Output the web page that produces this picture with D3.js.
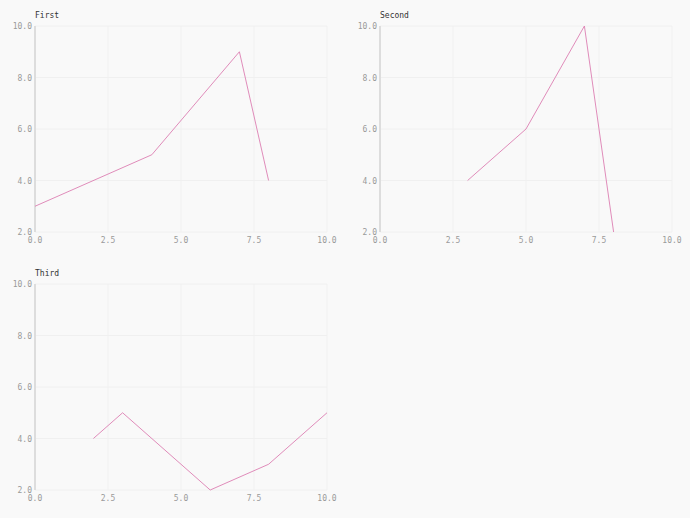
<!DOCTYPE html>
<html><head><meta charset="utf-8">
<script src="https://cdn.jsdelivr.net/npm/d3@7"></script>
<style>
html,body{margin:0;padding:0;background:#f9f9f9;}
svg{display:block;}
</style></head>
<body>
<svg id="chart" width="690" height="518"></svg>
<script>
const titles = ["First", "Second", "Third"];
const firstX = [0, 4, 7, 8];
const firstY = [3, 5, 9, 4];
const secondX = [3, 5, 7, 8];
const secondY = [4, 6, 10, 2];
const thirdX = [2, 3, 6, 8, 10];
const thirdY = [4, 5, 2, 3, 5];
const xTicks = [0, 2.5, 5, 7.5, 10];
const yTicks = [2, 4, 6, 8, 10];

const panels = [
  {title: titles[0], xs: firstX, ys: firstY, left: 35, top: 26},
  {title: titles[1], xs: secondX, ys: secondY, left: 380, top: 26},
  {title: titles[2], xs: thirdX, ys: thirdY, left: 35, top: 284}
];
const W = 292, H = 206;
const svg = d3.select("#chart");
svg.append("rect").attr("width", 690).attr("height", 518).attr("fill", "#f9f9f9");

panels.forEach(p => {
  const g = svg.append("g").attr("transform", `translate(${p.left},${p.top})`);
  const x = d3.scaleLinear().domain([0, 10]).range([0, W]);
  const y = d3.scaleLinear().domain([2, 10]).range([H, 0]);

  // grid
  g.selectAll(".vg").data(xTicks).enter().append("line")
    .attr("x1", d => x(d)).attr("x2", d => x(d)).attr("y1", 0).attr("y2", H)
    .attr("stroke", "#f1f1f1").attr("stroke-width", 1);
  g.selectAll(".hg").data(yTicks).enter().append("line")
    .attr("x1", 0).attr("x2", W).attr("y1", d => y(d)).attr("y2", d => y(d))
    .attr("stroke", "#f0f0f0").attr("stroke-width", 1);

  // left axis line
  g.append("line").attr("x1", 0).attr("x2", 0).attr("y1", 0).attr("y2", H)
    .attr("stroke", "#dddddd").attr("stroke-width", 2);

  // tick labels
  g.selectAll(".yl").data(yTicks).enter().append("text")
    .attr("x", -3).attr("y", d => y(d) + 3)
    .attr("text-anchor", "end")
    .attr("font-family", "DejaVu Sans Mono, monospace").attr("font-size", 8)
    .attr("fill", "#999").text(d => d3.format(".1f")(d));
  g.selectAll(".xl").data(xTicks).enter().append("text")
    .attr("x", d => x(d)).attr("y", H + 11)
    .attr("text-anchor", "middle")
    .attr("font-family", "DejaVu Sans Mono, monospace").attr("font-size", 8)
    .attr("fill", "#999").text(d => d3.format(".1f")(d));

  // title
  g.append("text").attr("x", 0).attr("y", -8)
    .attr("font-family", "DejaVu Sans Mono, monospace").attr("font-size", 8)
    .attr("fill", "#333").text(p.title);

  // line
  const pts = p.xs.map((v, i) => [v, p.ys[i]]);
  g.append("path").datum(pts)
    .attr("d", d3.line().x(d => x(d[0])).y(d => y(d[1])))
    .attr("fill", "none").attr("stroke", "#dc7fb2").attr("stroke-width", 0.9);
});
</script>
</body></html>
